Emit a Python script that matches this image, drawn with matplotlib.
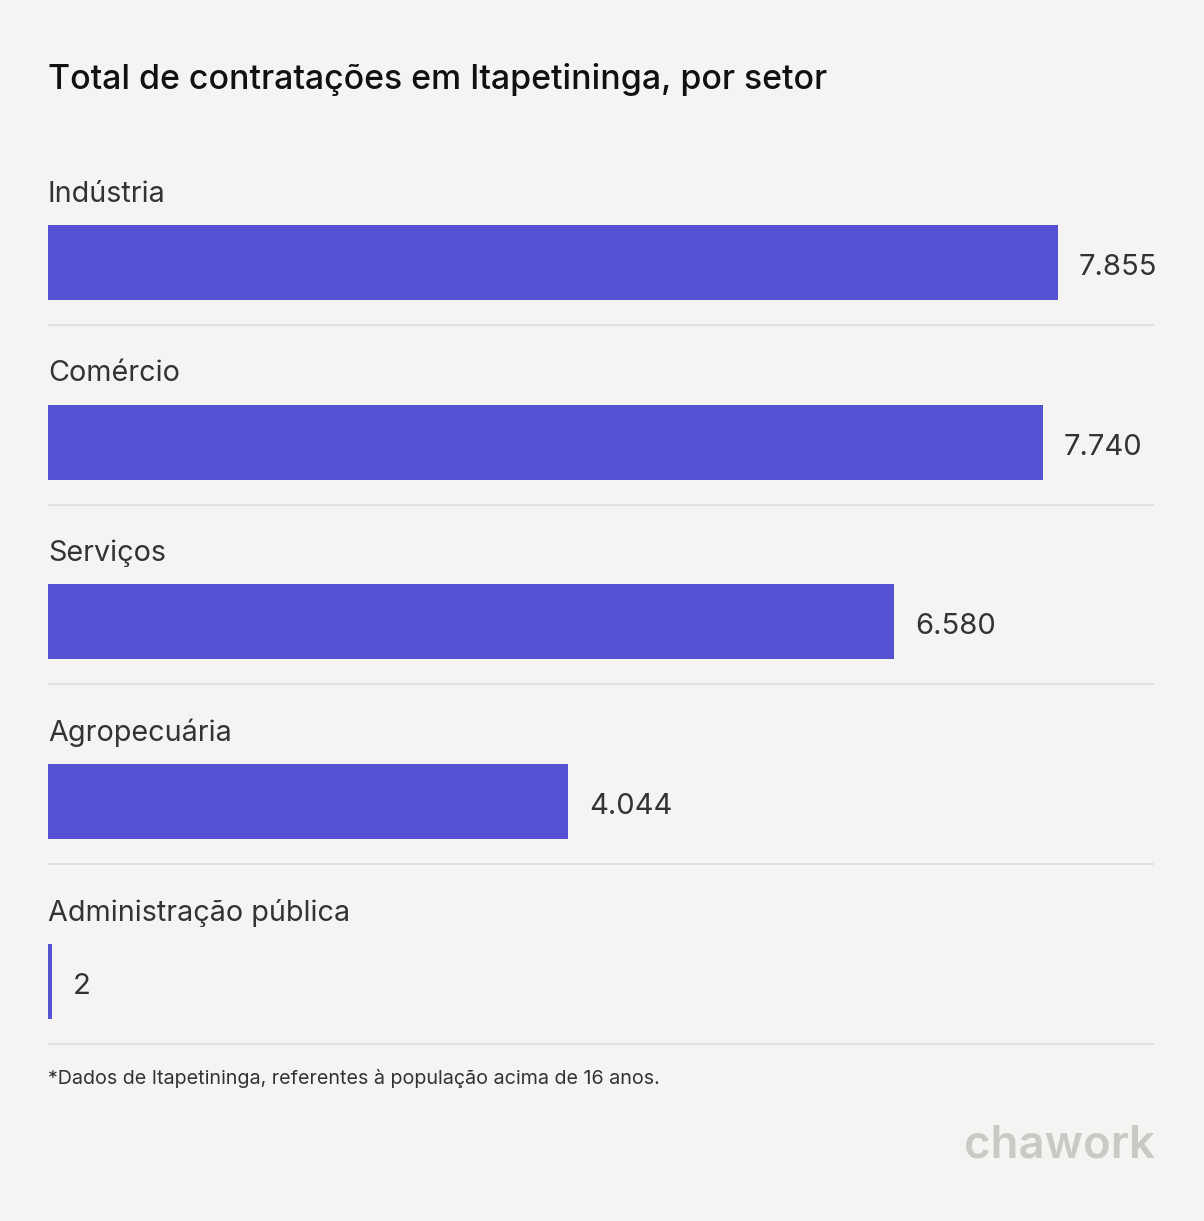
import matplotlib
matplotlib.use("Agg")
import matplotlib.pyplot as plt

categories = ["Indústria", "Comércio", "Serviços", "Agropecuária", "Administração pública"]
values = [7855, 7740, 6580, 4044, 2]
value_labels = ["7.855", "7.740", "6.580", "4.044", "2"]

title = "Total de contratações em Itapetininga, por setor"
footnote = "*Dados de Itapetininga, referentes à população acima de 16 anos."
brand = "chawork"

BG = "#f5f4f2"
BAR = "#5752d4"
TXT = "#333333"
SEP = "#e0dedb"

W, H = 1204, 1221
fig = plt.figure(figsize=(W / 100, H / 100), dpi=100, facecolor=BG)
plt.rcParams['font.family'] = ['Inter', 'DejaVu Sans']

# axes in pixel layout
left_px, right_px = 48, 1154
top_px, bot_px = 140, 1050
ax = fig.add_axes([left_px / W, 1 - bot_px / H, (right_px - left_px) / W, (bot_px - top_px) / H])
ax.set_facecolor(BG)
for s in ax.spines.values():
    s.set_visible(False)
ax.set_xticks([])
ax.set_yticks([])

px_per_unit = (1058 - 48) / values[0]
ax.set_xlim(0, (right_px - left_px) / px_per_unit)
row = 179.7
c0 = 262.5
ax.set_ylim((bot_px - c0) / row, (top_px - c0) / row)

min_w = 4 / px_per_unit
bar_h = 75 / row
ys = list(range(len(categories)))
widths = [max(v, min_w) for v in values]
ax.barh(ys, widths, height=bar_h, color=BAR, linewidth=0)

for y, w, lab, cat in zip(ys, widths, value_labels, categories):
    ax.annotate(lab, xy=(w, y), xytext=(15, -3.5), textcoords="offset points",
                ha="left", va="center", fontsize=21, color=TXT)
    ax.text(0, y - (c0 - 194) / row, cat, ha="left", va="center", fontsize=20.7, color=TXT)
    ax.axhline(y + (325 - c0) / row, color=SEP, lw=1.3, xmin=0, xmax=1)

fig.text(48 / W, 1 - 80 / H, title, ha="left", va="center", fontsize=24.4,
         fontweight="medium", color="#111111")
fig.text(48 / W, 1 - 1079 / H, footnote, ha="left", va="center", fontsize=14.2, color=TXT)
fig.text(1155 / W, 1 - 1145 / H, brand, ha="right", va="center", fontsize=32.8,
         fontweight="semibold", color="#cbc9c3")

fig.savefig("out.png", dpi=100, facecolor=BG)
